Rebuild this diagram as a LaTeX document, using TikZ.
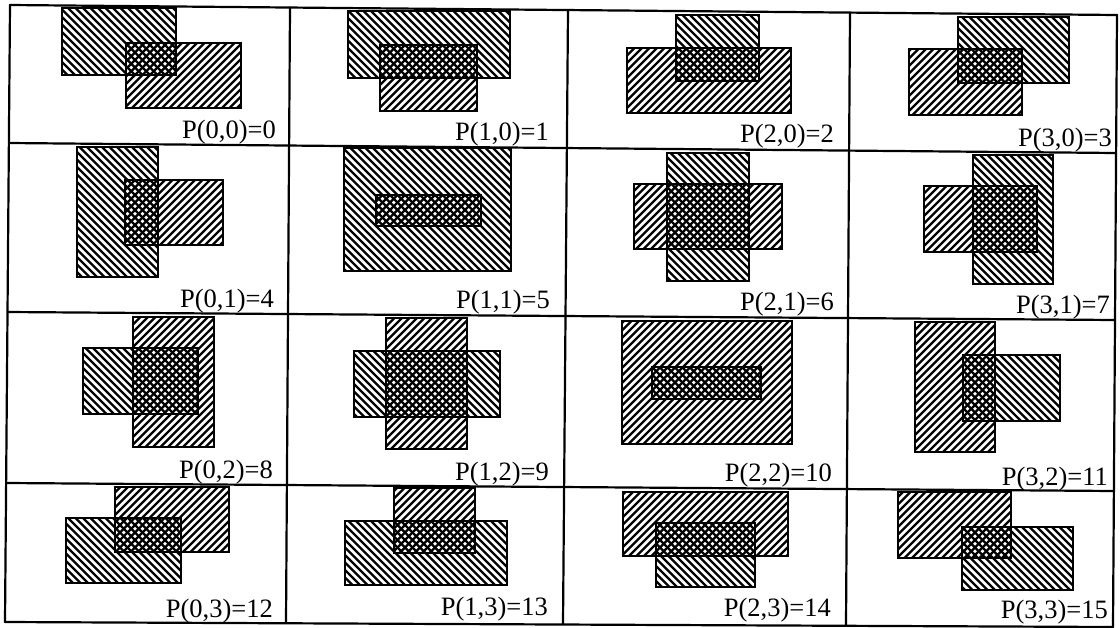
\documentclass[tikz,border=0pt]{standalone}
\usepackage{fontspec}
\setmainfont{Liberation Serif}

\tikzset{
  gridline/.style={line width=2.2pt, line cap=round},
  hatchline/.style={line width=2.2pt},
  rectline/.style={draw, line width=1.6pt},
  plabel/.style={anchor=base east, inner sep=0pt,
    font=\fontsize{26.5}{30}\selectfont}
}

% hatched rectangle, period 7.5 along the horizontal
% #1 = up ("/" lines) or down ("\" lines); #2,#3 top-left; #4,#5 bottom-right
\newcommand\HatchBox[5]{%
  \begin{scope}
    \clip (#2,#3) rectangle (#4,#5);
    \ifnum\pdfstrcmp{#1}{up}=0
      \pgfmathsetmacro\cLo{7.5*floor((#2+#3)/7.5)}%
      \pgfmathsetmacro\cNx{\cLo+7.5}%
      \pgfmathsetmacro\cHi{#4+#5+7.5}%
      \foreach \c in {\cLo,\cNx,...,\cHi}
        \draw[hatchline] (\c-#3+2,#3-2) -- (\c-#5-2,#5+2);
    \else
      \pgfmathsetmacro\cLo{7.5*floor((#2-#5)/7.5)}%
      \pgfmathsetmacro\cNx{\cLo+7.5}%
      \pgfmathsetmacro\cHi{#4-#3+7.5}%
      \foreach \c in {\cLo,\cNx,...,\cHi}
        \draw[hatchline] (\c+#3-2,#3-2) -- (\c+#5+2,#5+2);
    \fi
  \end{scope}
  \draw[rectline] (#2,#3) rectangle (#4,#5);
}

\begin{document}
\begin{tikzpicture}[x=1pt, y=-1pt]
\useasboundingbox (0,0) rectangle (1120,627);

% grid corners (the sheet is slightly skewed)
\coordinate (t0) at (10,5);    \coordinate (b0) at (5,622);
\coordinate (t1) at (290,7.5); \coordinate (b1) at (286,623);
\coordinate (t2) at (568,10);  \coordinate (b2) at (563,624);
\coordinate (t3) at (850,13);  \coordinate (b3) at (846,625);
\coordinate (t4) at (1117,15); \coordinate (b4) at (1113,627);
\coordinate (l1) at (9,143);   \coordinate (r1) at (1116,153);
\coordinate (l2) at (8,312);   \coordinate (r2) at (1115,320);
\coordinate (l3) at (7,483);   \coordinate (r3) at (1114,491);

% grid
\draw[gridline] (t0) -- (t4);
\draw[gridline] (l1) -- (r1);
\draw[gridline] (l2) -- (r2);
\draw[gridline] (l3) -- (r3);
\draw[gridline] (b0) -- (b4);
\draw[gridline] (t0) -- (b0);
\draw[gridline] (t1) -- (b1);
\draw[gridline] (t2) -- (b2);
\draw[gridline] (t3) -- (b3);
\draw[gridline] (t4) -- (b4);

% row 0
\HatchBox{down}{62}{8}{176}{75}
\HatchBox{up}{126}{43}{241}{108}
\node[plabel] (p00) at (276,138) {P(0,0)=0};

\HatchBox{down}{348}{11}{510}{78}
\HatchBox{up}{380}{45}{477}{111}
\node[plabel] (p10) at (549,140) {P(1,0)=1};

\HatchBox{down}{676}{15}{759}{81}
\HatchBox{up}{627}{48}{791}{113}
\node[plabel] (p20) at (834,142) {P(2,0)=2};

\HatchBox{down}{958}{17}{1069}{83}
\HatchBox{up}{909}{49}{1022}{115}
\node[plabel] (p30) at (1112,146) {P(3,0)=3};

% row 1
\HatchBox{down}{77}{147}{158}{277}
\HatchBox{up}{125}{180}{223}{245}
\node[plabel] (p01) at (274,307) {P(0,1)=4};

\HatchBox{down}{344}{148}{511}{271}
\HatchBox{up}{376}{195}{481}{226}
\node[plabel] (p11) at (550,308) {P(1,1)=5};

\HatchBox{down}{667}{153}{749}{281}
\HatchBox{up}{634}{184}{782}{249}
\node[plabel] (p21) at (834,310) {P(2,1)=6};

\HatchBox{down}{973}{155}{1053}{284}
\HatchBox{up}{924}{186}{1037}{252}
\node[plabel] (p31) at (1110,313) {P(3,1)=7};

% row 2
\HatchBox{up}{133}{317}{214}{447}
\HatchBox{down}{83}{348}{198}{414}
\node[plabel] (p02) at (273,478) {P(0,2)=8};

\HatchBox{up}{386}{318}{467}{449}
\HatchBox{down}{354}{351}{500}{417}
\node[plabel] (p12) at (549,480) {P(1,2)=9};

\HatchBox{up}{622}{321}{792}{444}
\HatchBox{down}{652}{367}{761}{399}
\node[plabel] (p22) at (832,481) {P(2,2)=10};

\HatchBox{up}{915}{322}{995}{452}
\HatchBox{down}{963}{355}{1060}{421}
\node[plabel] (p32) at (1108,485) {P(3,2)=11};

% row 3
\HatchBox{up}{115}{487}{229}{552}
\HatchBox{down}{66}{518}{181}{583}
\node[plabel] (p03) at (273,617) {P(0,3)=12};

\HatchBox{up}{394}{488}{475}{553}
\HatchBox{down}{345}{521}{507}{585}
\node[plabel] (p13) at (548,615) {P(1,3)=13};

\HatchBox{up}{623}{492}{788}{556}
\HatchBox{down}{656}{523}{755}{587}
\node[plabel] (p23) at (831,616) {P(2,3)=14};

\HatchBox{up}{898}{492}{1011}{558}
\HatchBox{down}{962}{527}{1073}{590}
\node[plabel] (p33) at (1108,618) {P(3,3)=15};
\end{tikzpicture}
\end{document}
